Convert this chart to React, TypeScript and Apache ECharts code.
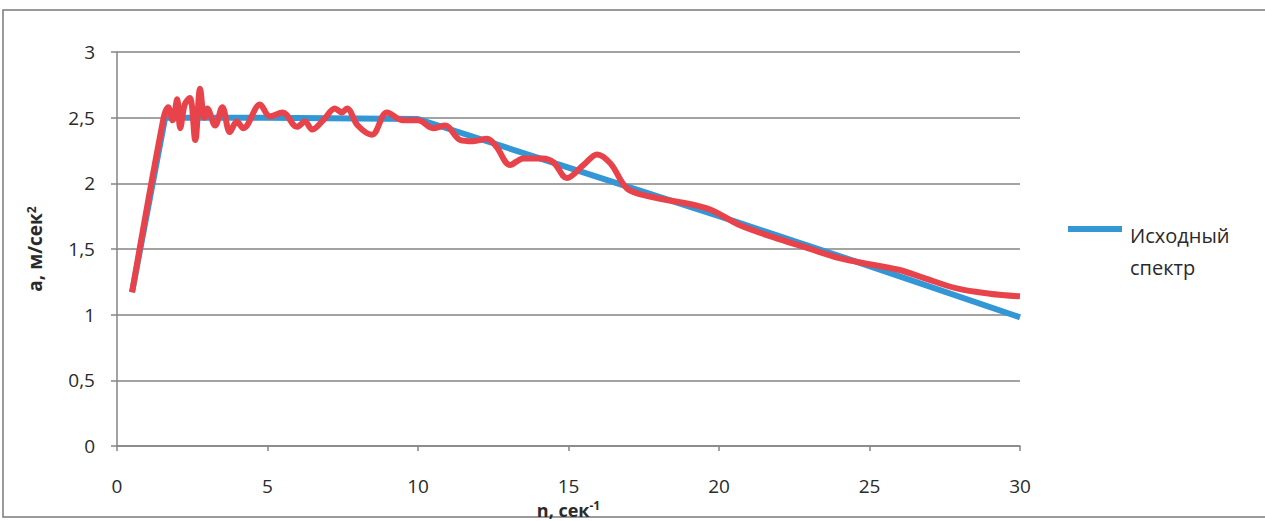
import React, { useEffect, useRef } from "react";
import * as echarts from "echarts";

// Original (target) spectrum: frequency n, 1/s -> acceleration a, m/s²
const sourceN = [0.5, 1.6, 5, 10, 15, 20, 25, 30];
const sourceA = [1.17, 2.5, 2.5, 2.49, 2.12, 1.75, 1.37, 0.98];

// Spectrum of the generated record
const resultN = [
  0.5, 1.55, 1.7, 1.85, 2.0, 2.1, 2.25, 2.42, 2.6, 2.76, 2.9, 3.0, 3.26, 3.5, 3.75,
  3.98, 4.2, 4.75, 5.08, 5.5, 5.98, 6.25, 6.48, 6.85, 7.24, 7.47, 7.64, 8.0, 8.47,
  8.97, 9.5, 10.0, 10.5, 10.9, 11.4, 11.83, 12.3, 12.6, 13.06, 13.5, 14.15, 14.5,
  14.95, 15.5, 15.95, 16.4, 16.95, 17.7, 19.6, 20.7, 21.8, 22.9, 24.0, 25.1, 26.0,
  26.8, 27.9, 29.0, 30.0,
];
const resultA = [
  1.17, 2.5, 2.58, 2.48, 2.64, 2.42, 2.6, 2.65, 2.33, 2.72, 2.5, 2.57, 2.44, 2.58, 2.39,
  2.47, 2.42, 2.6, 2.51, 2.54, 2.43, 2.47, 2.41, 2.48, 2.57, 2.54, 2.57, 2.44, 2.37,
  2.54, 2.48, 2.48, 2.42, 2.44, 2.33, 2.32, 2.34, 2.28, 2.14, 2.19, 2.19, 2.16,
  2.04, 2.14, 2.22, 2.15, 1.96, 1.9, 1.81, 1.68, 1.59, 1.51, 1.43, 1.38, 1.34,
  1.28, 1.2, 1.16, 1.14,
];

const legendLabel = ["Исходный", "спектр"];

const FONT = "'Open Sans', 'Noto Sans', sans-serif";
const TEXT = "#2a2a2a";
const GRID = "#858585";
const BLUE = "#3396d5";
const RED = "#e8434b";

const titleRich = (size: number) => ({
  b: { fontFamily: FONT, fontSize: size, fontWeight: "bold", color: TEXT },
  sup: {
    fontFamily: FONT,
    fontSize: 12,
    fontWeight: "bold",
    color: TEXT,
    verticalAlign: "top",
    padding: [0, 0, 8, 0],
  },
});

export default function App() {
  const ref = useRef<HTMLDivElement>(null);

  useEffect(() => {
    if (!ref.current) return;
    const chart = echarts.init(ref.current, undefined, { renderer: "svg" });
    const zip = (xs: number[], ys: number[]) => xs.map((x, i) => [x, ys[i]]);

    chart.setOption({
      animation: false,
      backgroundColor: "#ffffff",
      textStyle: { fontFamily: FONT },
      grid: {
        left: 117,
        right: 245,
        top: 52,
        bottom: 75,
        containLabel: false,
        outerBoundsMode: "none",
      },
      xAxis: {
        type: "value",
        min: 0,
        max: 30,
        interval: 5,
        name: "{b|n, сек}{sup|-1}",
        nameLocation: "middle",
        nameGap: 48,
        nameTextStyle: { rich: titleRich(18) },
        axisLine: { show: true, lineStyle: { color: GRID, width: 1.5 } },
        axisTick: { show: true, length: 5, lineStyle: { color: GRID, width: 1.5 } },
        axisLabel: { color: TEXT, fontSize: 19, fontFamily: FONT, margin: 30 },
        splitLine: { show: false },
      },
      yAxis: {
        type: "value",
        min: 0,
        max: 3,
        interval: 0.5,
        name: "{b|а, м/сек}{sup|2}",
        nameLocation: "middle",
        nameGap: 72,
        nameRotate: 90,
        nameTextStyle: { rich: titleRich(19) },
        axisLine: { show: true, lineStyle: { color: GRID, width: 1.5 } },
        axisTick: { show: true, length: 6, lineStyle: { color: GRID, width: 1.5 } },
        axisLabel: {
          color: TEXT,
          fontSize: 19,
          fontFamily: FONT,
          margin: 22,
          formatter: (v: number) => String(v).replace(".", ","),
        },
        splitLine: { show: true, lineStyle: { color: GRID, width: 1.5 } },
      },
      series: [
        {
          name: "Исходный спектр",
          type: "line",
          data: zip(sourceN, sourceA),
          smooth: false,
          showSymbol: false,
          lineStyle: { color: BLUE, width: 6, join: "round" },
          z: 2,
        },
        {
          name: "Полученный спектр",
          type: "line",
          data: zip(resultN, resultA),
          smooth: 0.35,
          showSymbol: false,
          lineStyle: { color: RED, width: 6, join: "round" },
          z: 3,
        },
      ],
      graphic: [
        {
          type: "rect",
          shape: { x: 3, y: 10, width: 1300, height: 507 },
          style: { fill: "none", stroke: "#7a7a7a", lineWidth: 1.5 },
          silent: true,
        },
        {
          type: "line",
          shape: { x1: 1068, y1: 229, x2: 1122, y2: 229 },
          style: { stroke: BLUE, lineWidth: 6 },
        },
        {
          type: "text",
          x: 1130,
          y: 219,
          style: {
            text: legendLabel.join("\n"),
            fontFamily: FONT,
            fontSize: 20,
            lineHeight: 32,
            fill: TEXT,
            verticalAlign: "top",
          },
        },
      ],
    });

    return () => chart.dispose();
  }, []);

  return (
    <div
      ref={ref}
      style={{ position: "fixed", left: 0, top: 0, width: 1265, height: 521 }}
    />
  );
}
